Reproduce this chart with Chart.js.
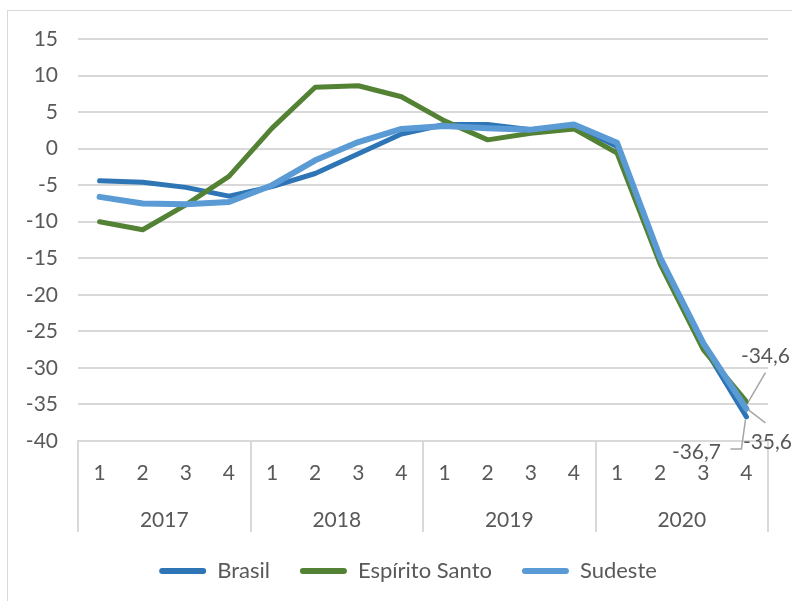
<!DOCTYPE html>
<html>
<head>
<meta charset="utf-8">
<script src="https://cdn.jsdelivr.net/npm/chart.js@4"></script>
<style>
  html, body { margin: 0; padding: 0; background: #ffffff; }
  #wrap { width: 792px; height: 601px; }
</style>
</head>
<body>
<div id="wrap"><canvas id="c" width="792" height="601"></canvas></div>
<script>
// ---- data ----
const quarters = ['1','2','3','4','1','2','3','4','1','2','3','4','1','2','3','4'];
const years = ['2017', '2018', '2019', '2020'];
const brasil = [-4.4, -4.6, -5.3, -6.5, -5.2, -3.4, -0.7, 2.0, 3.3, 3.3, 2.6, 3.2, 0.3, -15.5, -27.0, -36.7];
const espiritoSanto = [-10.0, -11.1, -7.7, -3.8, 2.8, 8.4, 8.6, 7.1, 3.8, 1.2, 2.1, 2.7, -0.6, -15.8, -27.5, -34.6];
const sudeste = [-6.6, -7.5, -7.6, -7.3, -5.0, -1.6, 0.9, 2.7, 3.1, 2.8, 2.6, 3.3, 0.8, -14.9, -26.6, -35.6];
const seriesNames = ['Brasil', 'Espírito Santo', 'Sudeste'];
const yTicks = { min: -40, max: 15, step: 5 };

const TXT = '#595959';
const GRID = '#D9D9D9';
const FONT = 'Lato';
Chart.defaults.font.family = FONT;
Chart.defaults.color = TXT;

const fmt = v => v.toFixed(1).replace('.', ',');

// frame + year groups + end labels
const extras = {
  id: 'extras',
  beforeDraw(chart) {
    const ctx = chart.ctx;
    ctx.save();
    ctx.fillStyle = '#ffffff';
    ctx.fillRect(0, 0, chart.width, chart.height);
    ctx.strokeStyle = GRID;
    ctx.lineWidth = 1;
    ctx.strokeRect(7.5, 10.5, 900, 900);
    ctx.restore();
  },
  afterDraw(chart) {
    const ctx = chart.ctx;
    const x = chart.scales.x;
    const area = chart.chartArea;
    const n = quarters.length;
    const per = n / years.length;
    const bottomY = area.bottom + 91;
    ctx.save();
    // separators
    ctx.strokeStyle = GRID;
    ctx.lineWidth = 2;
    const bounds = [];
    for (let g = 0; g <= years.length; g++) {
      let bx;
      if (g === 0) bx = area.left;
      else if (g === years.length) bx = area.right;
      else bx = (x.getPixelForValue(g * per - 1) + x.getPixelForValue(g * per)) / 2;
      bounds.push(bx);
      ctx.beginPath();
      ctx.moveTo(Math.round(bx), area.bottom);
      ctx.lineTo(Math.round(bx), bottomY);
      ctx.stroke();
    }
    // years
    ctx.fillStyle = TXT;
    ctx.font = '21px ' + FONT;
    ctx.textAlign = 'center';
    ctx.textBaseline = 'middle';
    years.forEach((yr, g) => {
      ctx.fillText(yr, (bounds[g] + bounds[g + 1]) / 2, area.bottom + 79);
    });

    // end-point labels with leader lines
    const last = n - 1;
    const pt = i => chart.getDatasetMeta(i).data[last];
    ctx.strokeStyle = '#A6A6A6';
    ctx.lineWidth = 1.5;
    ctx.textAlign = 'center';
    // Espírito Santo (above right)
    const pe = pt(1);
    ctx.beginPath();
    ctx.moveTo(pe.x + 2, pe.y);
    ctx.lineTo(pe.x + 19, pe.y - 29);
    ctx.stroke();
    ctx.fillText(fmt(espiritoSanto[last]), pe.x + 19, pe.y - 45);
    // Sudeste (below right)
    const ps = pt(2);
    ctx.beginPath();
    ctx.moveTo(ps.x + 2, ps.y + 1);
    ctx.lineTo(ps.x + 19, ps.y + 14);
    ctx.stroke();
    ctx.fillText(fmt(sudeste[last]), ps.x + 21, ps.y + 33);
    // Brasil (below left)
    const pb = pt(0);
    ctx.beginPath();
    ctx.moveTo(pb.x - 1, pb.y + 3);
    ctx.lineTo(pb.x - 5, pb.y + 32);
    ctx.lineTo(pb.x - 16, pb.y + 32);
    ctx.stroke();
    ctx.fillText(fmt(brasil[last]), pb.x - 50, pb.y + 35);
    ctx.restore();
  }
};

const lineDs = (label, data, color, width, order) => ({
  label, data,
  borderColor: color,
  backgroundColor: color,
  borderWidth: width,
  pointRadius: 0,
  pointHoverRadius: 0,
  tension: 0,
  borderCapStyle: 'round',
  borderJoinStyle: 'round',
  fill: false,
  order
});

new Chart(document.getElementById('c'), {
  type: 'line',
  data: {
    labels: quarters,
    datasets: [
      lineDs(seriesNames[0], brasil, '#2E75B6', 5, 3),
      lineDs(seriesNames[1], espiritoSanto, '#548235', 5, 2),
      lineDs(seriesNames[2], sudeste, '#5B9BD5', 6, 1)
    ]
  },
  options: {
    responsive: false,
    animation: false,
    events: [],
    layout: { padding: { left: 24, right: 0, top: 39, bottom: 11 } },
    scales: {
      x: {
        offset: true,
        grid: { display: false, drawTicks: false },
        border: { display: true, color: GRID, width: 2 },
        ticks: { font: { size: 21 }, color: TXT, padding: 20, maxRotation: 0, autoSkip: false },
        afterFit(s) { s.height = 89; }
      },
      y: {
        min: yTicks.min, max: yTicks.max,
        grid: { color: GRID, lineWidth: 2, drawTicks: false },
        border: { display: false },
        ticks: { stepSize: yTicks.step, font: { size: 21 }, color: TXT, padding: 20 },
        afterFit(s) { s.width = 54; }
      },
      yRight: {
        position: 'right',
        display: true,
        grid: { display: false, drawTicks: false },
        border: { display: false },
        ticks: { display: false },
        afterFit(s) { s.width = 24; }
      }
    },
    plugins: {
      tooltip: { enabled: false },
      legend: {
        position: 'bottom',
        maxHeight: 60,
        labels: {
          font: { size: 22 },
          color: TXT,
          boxWidth: 47,
          boxHeight: 6,
          padding: 30,
          useBorderRadius: true,
          borderRadius: 3,
          sort: (a, b) => a.datasetIndex - b.datasetIndex,
          generateLabels(chart) {
            return Chart.defaults.plugins.legend.labels.generateLabels(chart)
              .map(l => Object.assign(l, { lineWidth: 0 }));
          }
        }
      }
    }
  },
  plugins: [extras]
});
</script>
</body>
</html>
